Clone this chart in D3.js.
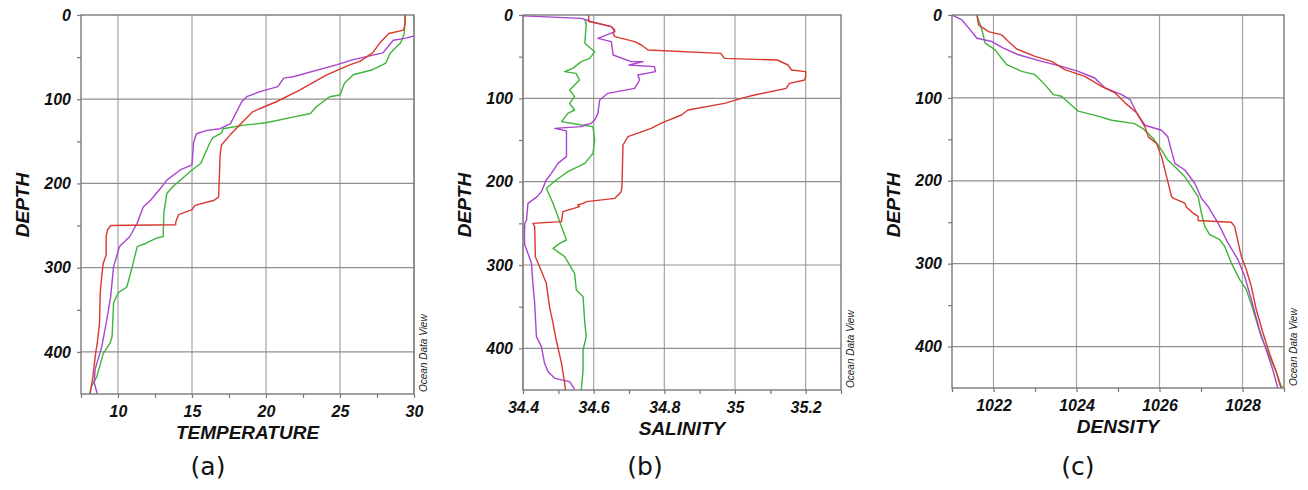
<!DOCTYPE html>
<html>
<head>
<meta charset="utf-8">
<script src="https://cdn.jsdelivr.net/npm/d3@7"></script>
<style>
body{margin:0;background:#fff;}
</style>
</head>
<body>
<script>
// depth ticks shared by every panel
var depthTicks=[0,100,200,300,400];
var depthMinor=[50,150,250,350];

// (a) temperature profiles: [value, depth]
var tempTicks=[10,15,20,25,30];
var tempMinor=[7.5,12.5,17.5,22.5,27.5];
var tempRed=[[29.4,0],[29.4,10],[29.3,18],[28.3,22],[27.7,33],[27.2,45],[26.35,55],[25.7,59],[24.1,71],[22.3,89],[20.7,103],[19.6,111],[19.1,115],[18.3,129],[17.6,142],[17.0,154],[16.9,166],[16.8,216],[16.5,220],[15.2,226],[15.0,231],[14.1,237],[13.9,246],[13.9,249],[9.5,250],[9.3,255],[9.2,263],[9.2,285],[9.0,295],[8.9,310],[8.8,330],[8.75,366],[8.6,390],[8.5,400],[8.3,430],[8.2,441],[8.1,450]];
var tempPurple=[[30.2,24],[29.3,28],[28.6,30],[27.9,45],[25.9,53],[24.8,59],[21.9,73],[21.2,75],[20.8,85],[19.6,91],[18.7,97],[18.36,103],[17.6,129],[16.9,135],[16.0,137],[15.3,141],[15.1,152],[15.0,178],[14.2,184],[13.3,196],[12.96,204],[12.2,220],[11.7,228],[11.3,247],[10.8,263],[10.1,275],[9.9,287],[9.7,299],[9.5,335],[9.2,366],[8.9,394],[8.45,421],[8.4,437],[8.6,450]];
var tempGreen=[[29.4,0],[29.35,22],[29.1,33],[28.4,45],[28.1,57],[27.2,65],[25.9,71],[25.3,81],[25.0,95],[24.3,97],[23.4,109],[23.0,117],[21.9,121],[20.0,128],[18.4,131],[17.1,135],[17.0,140],[16.4,146],[16.2,152],[16.0,160],[15.6,176],[15.0,184],[13.7,204],[13.3,212],[13.1,235],[13.05,263],[12.6,265],[11.9,271],[11.3,275],[10.9,303],[10.6,323],[10.0,330],[9.7,342],[9.6,382],[9.45,390],[9.0,402],[8.56,430],[8.2,441],[8.1,450]];

// (b) salinity profiles
var salTicks=[34.4,34.6,34.8,35,35.2];
var salMinor=[34.5,34.7,34.9,35.1,35.3];
var salRed=[[34.586,0],[34.586,8],[34.612,10],[34.65,14],[34.66,18],[34.655,22],[34.66,26],[34.716,32],[34.735,36],[34.754,42],[34.96,46],[34.97,52],[35.12,54],[35.15,60],[35.16,66],[35.2,68],[35.2,74],[35.197,78],[35.154,82],[35.145,88],[35.055,96],[35.018,100],[34.97,106],[34.867,114],[34.848,120],[34.79,130],[34.763,136],[34.697,146],[34.683,156],[34.68,206],[34.678,212],[34.66,220],[34.58,224],[34.57,226],[34.555,228],[34.56,230],[34.513,236],[34.509,248],[34.428,250],[34.433,254],[34.435,290],[34.447,302],[34.466,322],[34.475,350],[34.485,370],[34.494,390],[34.509,418],[34.518,442],[34.52,450]];
var salPurple=[[34.4,1],[34.565,4],[34.58,6],[34.593,8],[34.63,12],[34.65,14],[34.66,20],[34.612,28],[34.65,32],[34.655,48],[34.706,56],[34.74,56],[34.70,60],[34.772,62],[34.775,68],[34.725,72],[34.73,78],[34.716,88],[34.64,94],[34.617,102],[34.612,118],[34.603,126],[34.593,130],[34.575,132],[34.565,134],[34.49,136],[34.523,139],[34.523,170],[34.499,178],[34.48,190],[34.466,198],[34.452,212],[34.44,218],[34.414,226],[34.41,246],[34.405,250],[34.404,266],[34.405,276],[34.414,286],[34.424,298],[34.428,322],[34.433,346],[34.438,386],[34.452,398],[34.461,418],[34.471,428],[34.49,436],[34.532,440],[34.546,449]];
var salGreen=[[34.575,6],[34.579,10],[34.575,34],[34.603,44],[34.589,52],[34.565,56],[34.541,64],[34.518,68],[34.55,70],[34.56,78],[34.546,84],[34.532,90],[34.546,98],[34.532,106],[34.546,114],[34.527,118],[34.509,128],[34.565,132],[34.598,134],[34.603,150],[34.598,166],[34.575,178],[34.527,188],[34.494,198],[34.466,208],[34.485,226],[34.499,242],[34.509,254],[34.523,270],[34.504,274],[34.485,280],[34.518,290],[34.546,310],[34.551,330],[34.57,338],[34.575,370],[34.579,386],[34.57,402],[34.57,426],[34.565,450]];

// (c) density profiles
var denTicks=[1022,1024,1026,1028];
var denMinor=[1021,1023,1025,1027,1029];
var denRed=[[1021.6,0],[1021.64,12],[1021.88,20],[1022.2,24],[1022.36,32],[1022.56,41],[1023.0,50],[1023.4,56],[1023.72,66],[1024.2,74],[1024.6,86],[1024.93,94],[1025.17,106],[1025.45,118],[1025.65,135],[1025.73,147],[1025.93,155],[1026.05,171],[1026.17,195],[1026.29,219],[1026.33,221],[1026.61,227],[1026.65,232],[1026.81,239],[1026.93,243],[1026.93,248],[1027.73,250],[1027.81,255],[1027.97,291],[1028.09,307],[1028.21,327],[1028.33,355],[1028.49,383],[1028.65,408],[1028.81,430],[1028.89,444],[1028.93,450]];
var denPurple=[[1021.0,0],[1021.24,6],[1021.44,18],[1021.6,28],[1021.96,32],[1022.24,40],[1022.6,48],[1023.16,56],[1023.64,62],[1024.04,68],[1024.44,76],[1024.69,88],[1025.09,96],[1025.29,102],[1025.45,118],[1025.65,133],[1026.05,139],[1026.2,147],[1026.37,179],[1026.61,187],[1026.85,203],[1027.01,221],[1027.17,231],[1027.41,251],[1027.65,275],[1027.89,295],[1028.05,315],[1028.21,343],[1028.41,380],[1028.57,404],[1028.73,428],[1028.85,450]];
var denGreen=[[1021.6,0],[1021.72,18],[1021.8,34],[1022.04,42],[1022.16,50],[1022.32,60],[1022.68,68],[1023.0,72],[1023.24,84],[1023.44,96],[1023.64,98],[1024.04,116],[1024.52,122],[1024.85,127],[1025.4,131],[1025.6,137],[1025.85,149],[1026.05,163],[1026.2,175],[1026.37,183],[1026.61,195],[1026.77,207],[1026.93,219],[1027.01,239],[1027.09,255],[1027.21,265],[1027.45,271],[1027.57,279],[1027.73,299],[1027.93,319],[1028.09,331],[1028.25,355],[1028.45,388],[1028.65,412],[1028.81,430],[1028.93,448],[1029.0,450]];

var colRed="#d8392f";
var colPurple="#a944cf";
var colGreen="#3fb43a";

var svg=d3.select("body").append("svg")
          .attr("width",1308)
          .attr("height",490);

var drawPanel=function(p)
{
  var x=d3.scaleLinear().domain(p.xDomain).range([p.left,p.right]);
  var y=d3.scaleLinear().domain([0,450]).range([p.top,p.bottom]);
  var g=svg.append("g");

  g.append("clipPath").attr("id","clip"+p.id)
   .append("rect")
   .attr("x",p.left).attr("y",p.top)
   .attr("width",p.right-p.left).attr("height",p.bottom-p.top);

  // grid
  g.selectAll("line.vg")
   .data(p.xTicks)
   .enter()
   .append("line")
   .attr("x1",function(d){return x(d);})
   .attr("x2",function(d){return x(d);})
   .attr("y1",p.top)
   .attr("y2",p.bottom)
   .attr("stroke","#a3a3a3")
   .attr("stroke-width",1.2);
  g.selectAll("line.hg")
   .data(depthTicks.slice(1))
   .enter()
   .append("line")
   .attr("x1",p.left)
   .attr("x2",p.right)
   .attr("y1",function(d){return y(d);})
   .attr("y2",function(d){return y(d);})
   .attr("stroke","#8f8f8f")
   .attr("stroke-width",1.2);

  // axes
  var fontTick=function(sel){
    sel.selectAll("text")
       .attr("font-family","'Liberation Sans', Arial, sans-serif")
       .attr("font-weight","bold")
       .attr("font-style","italic")
       .attr("font-size",16)
       .attr("fill","#111");
    sel.selectAll("line").attr("stroke","#777").attr("stroke-width",1.2);
    sel.select(".domain").remove();
  };
  g.append("g")
   .attr("transform","translate(0,"+p.bottom+")")
   .call(d3.axisBottom(x).tickValues(p.xTicks).tickSize(4).tickPadding(8).tickFormat(d3.format("")))
   .call(fontTick);
  g.append("g")
   .attr("transform","translate(0,"+p.bottom+")")
   .call(d3.axisBottom(x).tickValues(p.xMinor).tickSize(4).tickFormat(""))
   .call(fontTick);
  g.append("g")
   .attr("transform","translate("+p.left+",0)")
   .call(d3.axisLeft(y).tickValues(depthTicks).tickSize(4).tickPadding(6))
   .call(fontTick);
  g.append("g")
   .attr("transform","translate("+p.left+",0)")
   .call(d3.axisLeft(y).tickValues(depthMinor).tickSize(4).tickFormat(""))
   .call(fontTick);

  // profiles
  var line=d3.line()
             .x(function(d){return x(d[0]);})
             .y(function(d){return y(d[1]);});
  g.append("g")
   .attr("clip-path","url(#clip"+p.id+")")
   .selectAll("path")
   .data(p.series)
   .enter()
   .append("path")
   .attr("d",function(d){return line(d.values);})
   .attr("fill","none")
   .attr("stroke",function(d){return d.color;})
   .attr("stroke-width",1.4)
   .attr("stroke-linejoin","round");

  // frame
  g.append("rect")
   .attr("x",p.left).attr("y",p.top)
   .attr("width",p.right-p.left).attr("height",p.bottom-p.top)
   .attr("fill","none")
   .attr("stroke","#7a7a7a")
   .attr("stroke-width",1.4);

  // titles
  g.append("text")
   .text(p.xTitle)
   .attr("x",(p.left+p.right)/2)
   .attr("y",p.bottom+45)
   .attr("text-anchor","middle")
   .attr("font-family","'Liberation Sans', Arial, sans-serif")
   .attr("font-weight","bold")
   .attr("font-style","italic")
   .attr("font-size",19)
   .attr("fill","#111");
  g.append("text")
   .text("DEPTH")
   .attr("transform","translate("+(p.left-52)+",205) rotate(-90)")
   .attr("text-anchor","middle")
   .attr("font-family","'Liberation Sans', Arial, sans-serif")
   .attr("font-weight","bold")
   .attr("font-style","italic")
   .attr("font-size",19)
   .attr("fill","#111");
  g.append("text")
   .text("Ocean Data View")
   .attr("transform","translate("+(p.right+13)+","+(p.bottom-2)+") rotate(-90)")
   .attr("text-anchor","start")
   .attr("font-family","'Liberation Sans', Arial, sans-serif")
   .attr("font-style","italic")
   .attr("font-size",10)
   .attr("fill","#222");
  g.append("text")
   .text(p.label)
   .attr("x",p.labelX)
   .attr("y",475)
   .attr("text-anchor","middle")
   .attr("font-family","'DejaVu Sans', sans-serif")
   .attr("font-size",25)
   .attr("fill","#111");
};

drawPanel({id:"a",left:81,right:414,top:15,bottom:394,xDomain:[7.5,30],xTicks:tempTicks,xMinor:tempMinor,
  xTitle:"TEMPERATURE",label:"(a)",labelX:208,
  series:[{values:tempGreen,color:colGreen},{values:tempPurple,color:colPurple},{values:tempRed,color:colRed}]});
drawPanel({id:"b",left:523,right:841,top:15,bottom:390,xDomain:[34.4,35.3],xTicks:salTicks,xMinor:salMinor,
  xTitle:"SALINITY",label:"(b)",labelX:645,
  series:[{values:salGreen,color:colGreen},{values:salPurple,color:colPurple},{values:salRed,color:colRed}]});
drawPanel({id:"c",left:952,right:1284,top:15,bottom:388,xDomain:[1021,1029],xTicks:denTicks,xMinor:denMinor,
  xTitle:"DENSITY",label:"(c)",labelX:1078,
  series:[{values:denGreen,color:colGreen},{values:denPurple,color:colPurple},{values:denRed,color:colRed}]});
</script>
</body>
</html>
